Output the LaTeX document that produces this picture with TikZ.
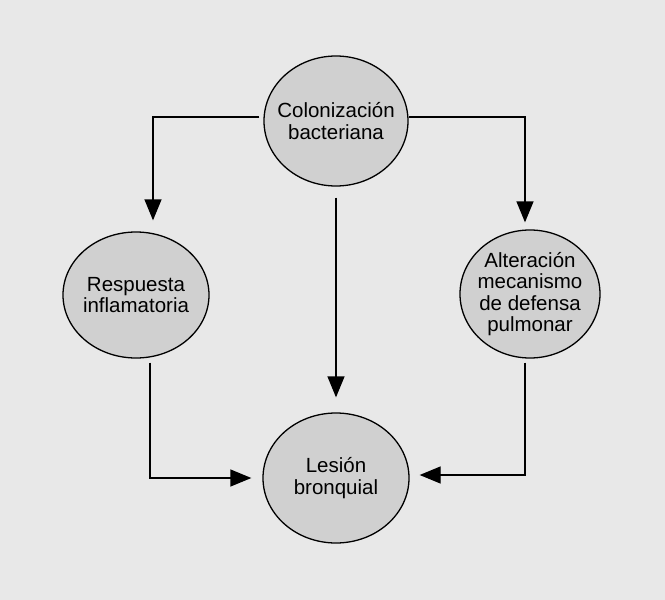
\documentclass[tikz,border=0pt]{standalone}
\usepackage{fontspec}
\setmainfont{Liberation Sans}
\usetikzlibrary{shapes, arrows.meta}

\definecolor{bggray}{HTML}{E8E8E8}
\definecolor{cellgray}{HTML}{D0D0D0}

\begin{document}
\begin{tikzpicture}[
				x=1pt, y=-1pt,
				font=\fontsize{20.5}{21.5}\selectfont,
				phase/.style={draw, line width=1.3pt, ellipse, align=center, fill=cellgray, inner xsep=-25pt, inner ysep=-5pt},
				to/.style={-{Triangle[length=21pt,width=17pt]}, line width=1.3pt},
				every node/.style={anchor=center}
				]
				
				\fill[bggray] (0,0) rectangle (665,600);
				
				\node[phase, minimum width=144pt, minimum height=130pt] (colon) at (336,121) {Colonización\\bacteriana};
				\node[phase, minimum width=146pt, minimum height=126pt] (resp) at (136,295) {Respuesta\\inflamatoria};
				\node[phase, minimum width=140pt, minimum height=128pt] (alter) at (530,294) {Alteración\\mecanismo\\de defensa\\pulmonar};
				\node[phase, minimum width=146pt, minimum height=130pt] (lesion) at (336,478) {Lesión\\bronquial};
				
				\draw[to, shorten >=11pt] ([xshift=-4pt,yshift=4pt]colon.west) -| ([xshift=17pt]resp.north);
				\draw[to, shorten >=7pt] ([yshift=4pt]colon.east) -| ([xshift=-5pt]alter.north);
				\draw[to, shorten <=11pt, shorten >=15pt] (colon.south) -- (lesion.north);
				\draw[to, shorten <=4pt, shorten >=11pt] ([xshift=14pt]resp.south) |- (lesion.west);
				\draw[to, shorten <=4pt, shorten >=10pt] ([xshift=-5pt]alter.south) |- ([yshift=3pt]lesion.east);
				\end{tikzpicture}
\end{document}
